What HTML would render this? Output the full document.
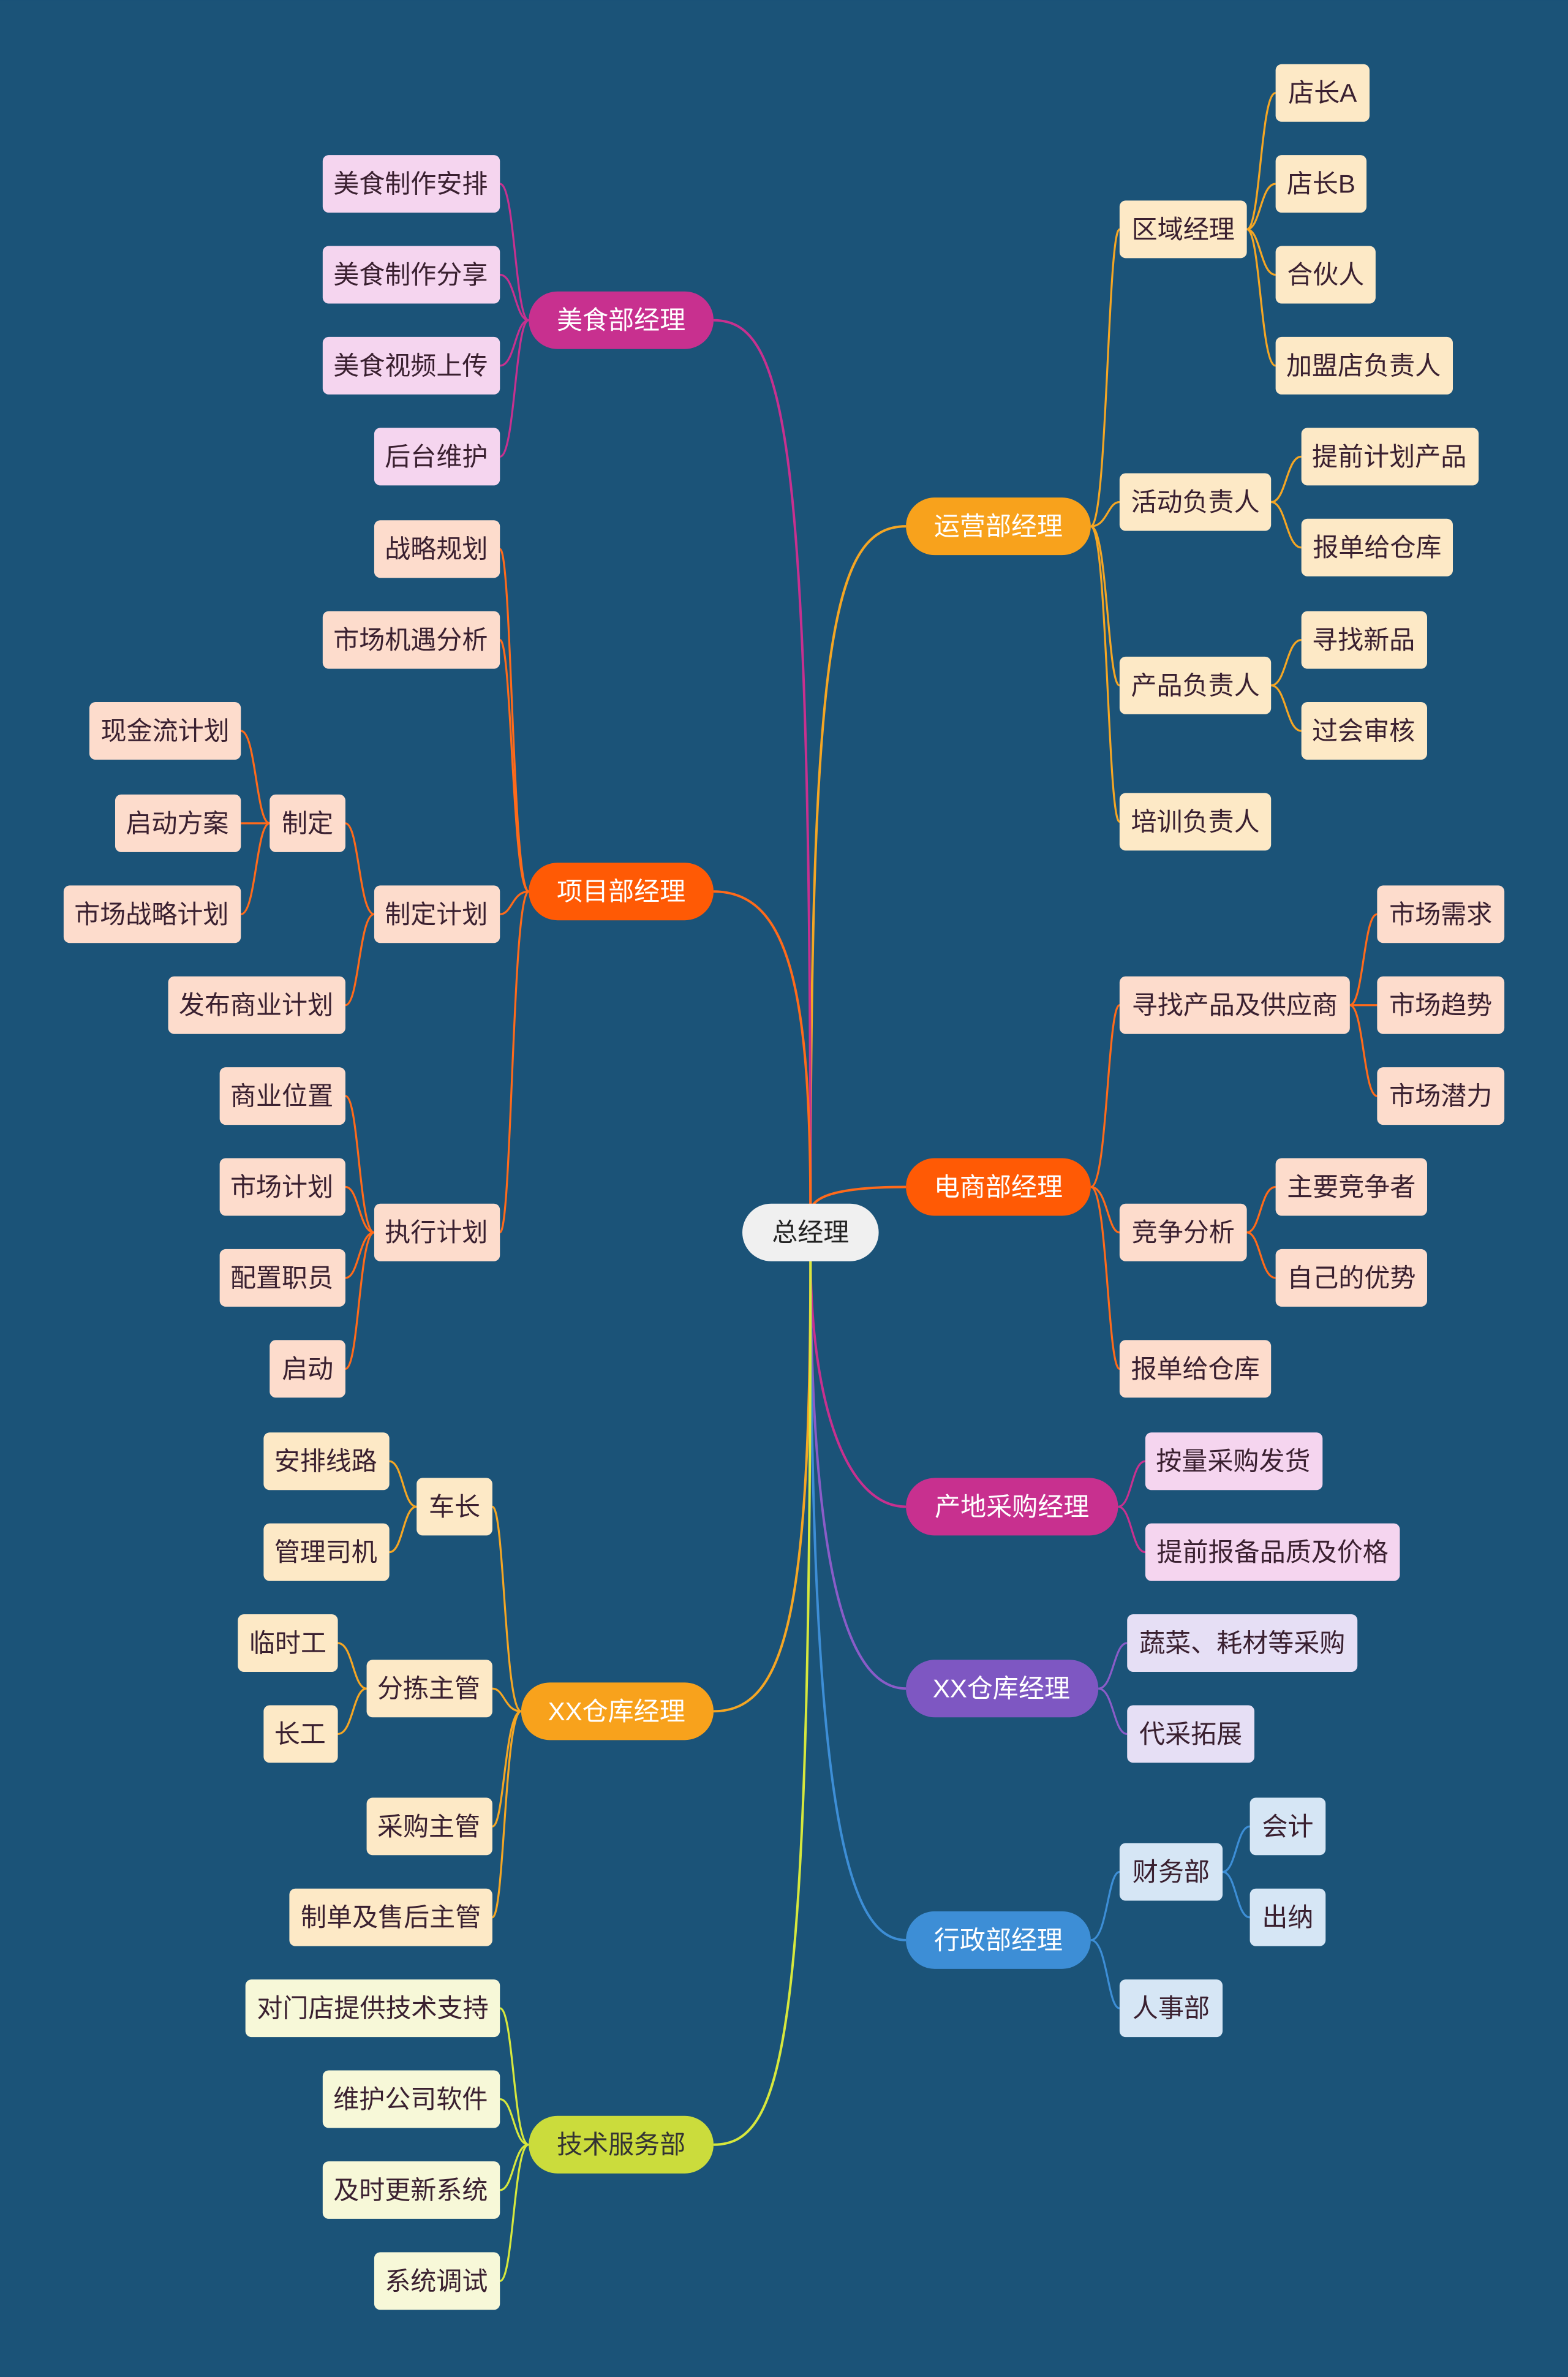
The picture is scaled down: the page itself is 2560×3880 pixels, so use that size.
<!DOCTYPE html>
<html><head><meta charset="utf-8"><style>
html,body{margin:0;padding:0;background:#1b5378;}
svg{display:block}
text{font-family:"Liberation Sans","Noto Sans CJK SC",sans-serif;font-size:17px;dominant-baseline:central;text-anchor:middle}
.l text{fill:#3a2030}
</style></head><body>
<svg width="2560" height="3880" viewBox="0 0 1035 1568" xmlns="http://www.w3.org/2000/svg">
<rect width="1035" height="1568" fill="#1b5378"/>
<g fill="none" stroke-width="1.6">
<!-- main branches -->
<path d="M535,800 C535,420 550,347 598,347" stroke="#f5a623"/>
<path d="M535,800 C535,790 550,783 598,783" stroke="#ff6a1a"/>
<path d="M535,826 C535,930 560,994 598,994" stroke="#c8308f"/>
<path d="M535,826 C535,1040 560,1114 598,1114" stroke="#8a5cc8"/>
<path d="M535,826 C535,1200 560,1280 598,1280" stroke="#3d8ed6"/>
<path d="M535,800 C535,290 520,211 471,211" stroke="#c8308f"/>
<path d="M535,800 C535,650 520,588 471,588" stroke="#ff6a1a"/>
<path d="M535,826 C535,1060 520,1129 471,1129" stroke="#f5a623"/>
<path d="M535,826 C535,1340 520,1415 471,1415" stroke="#d7e83c"/>
</g>
<g fill="none" stroke-width="1.3">
<g stroke="#f5a623">
<path d="M720,347 C731,347 731,151 739,151"/><path d="M720,347 C731,347 731,331 739,331"/><path d="M720,347 C731,347 731,452 739,452"/><path d="M720,347 C731,347 731,542 739,542"/>
<path d="M823,151 C832,151 832,61 842,61"/><path d="M823,151 C832,151 832,121 842,121"/><path d="M823,151 C832,151 832,181 842,181"/><path d="M823,151 C832,151 832,241 842,241"/>
<path d="M839,331 C849,331 849,301 859,301"/><path d="M839,331 C849,331 849,361 859,361"/>
<path d="M839,452 C849,452 849,422 859,422"/><path d="M839,452 C849,452 849,482 859,482"/>
</g>
<g stroke="#ff6a1a">
<path d="M720,783 C731,783 731,663 739,663"/><path d="M720,783 C731,783 731,813 739,813"/><path d="M720,783 C731,783 731,903 739,903"/>
<path d="M891,663 C900,663 900,603 909,603"/><path d="M891,663 H909"/><path d="M891,663 C900,663 900,723 909,723"/>
<path d="M823,813 C832,813 832,783 842,783"/><path d="M823,813 C832,813 832,843 842,843"/>
<path d="M349,588 C338,588 338,362 330,362"/><path d="M349,588 C338,588 338,422 330,422"/><path d="M349,588 C338,588 338,603 330,603"/><path d="M349,588 C338,588 338,813 330,813"/>
<path d="M247,603 C237,603 237,543 228,543"/><path d="M247,603 C237,603 237,663 228,663"/>
<path d="M178,543 C169,543 169,482 159,482"/><path d="M178,543 H159"/><path d="M178,543 C169,543 169,603 159,603"/>
<path d="M247,813 C237,813 237,723 228,723"/><path d="M247,813 C237,813 237,783 228,783"/><path d="M247,813 C237,813 237,843 228,843"/><path d="M247,813 C237,813 237,903 228,903"/>
</g>
<g stroke="#c8308f">
<path d="M738,994 C747,994 747,964 756,964"/><path d="M738,994 C747,994 747,1024 756,1024"/>
<path d="M349,211 C340,211 340,121 330,121"/><path d="M349,211 C340,211 340,181 330,181"/><path d="M349,211 C340,211 340,241 330,241"/><path d="M349,211 C340,211 340,301 330,301"/>
</g>
<g stroke="#8a5cc8"><path d="M725,1114 C735,1114 735,1084 744,1084"/><path d="M725,1114 C735,1114 735,1144 744,1144"/></g>
<g stroke="#3d8ed6">
<path d="M720,1280 C731,1280 731,1235 739,1235"/><path d="M720,1280 C731,1280 731,1325 739,1325"/>
<path d="M807,1235 C816,1235 816,1205 825,1205"/><path d="M807,1235 C816,1235 816,1265 825,1265"/>
</g>
<g stroke="#f5a623">
<path d="M344,1129 C333,1129 333,994 325,994"/><path d="M344,1129 C333,1129 333,1114 325,1114"/><path d="M344,1129 C333,1129 333,1205 325,1205"/><path d="M344,1129 C333,1129 333,1265 325,1265"/>
<path d="M275,994 C266,994 266,964 257,964"/><path d="M275,994 C266,994 266,1024 257,1024"/>
<path d="M242,1114 C233,1114 233,1084 223,1084"/><path d="M242,1114 C233,1114 233,1144 223,1144"/>
</g>
<g stroke="#d7e83c">
<path d="M349,1415 C339,1415 339,1325 330,1325"/><path d="M349,1415 C339,1415 339,1385 330,1385"/><path d="M349,1415 C339,1415 339,1445 330,1445"/><path d="M349,1415 C339,1415 339,1505 330,1505"/>
</g>
</g>

<!-- root -->
<rect x="490" y="794" width="90" height="38" rx="19" fill="#f0f0f0"/><text x="535" y="813" fill="#222">总经理</text>

<!-- main pills -->
<g>
<rect x="598" y="328" width="122" height="38" rx="19" fill="#f8a21c"/><text x="659" y="347" fill="#fff">运营部经理</text>
<rect x="598" y="764" width="122" height="38" rx="19" fill="#ff5a05"/><text x="659" y="783" fill="#fff">电商部经理</text>
<rect x="598" y="975" width="140" height="38" rx="19" fill="#c8308f"/><text x="668" y="994" fill="#fff">产地采购经理</text>
<rect x="598" y="1095" width="127" height="38" rx="19" fill="#7e57c2"/><text x="661" y="1114" fill="#fff">XX仓库经理</text>
<rect x="598" y="1261" width="122" height="38" rx="19" fill="#3d8ed6"/><text x="659" y="1280" fill="#fff">行政部经理</text>
<rect x="349" y="192" width="122" height="38" rx="19" fill="#c8308f"/><text x="410" y="211" fill="#fff">美食部经理</text>
<rect x="349" y="569" width="122" height="38" rx="19" fill="#ff5a05"/><text x="410" y="588" fill="#fff">项目部经理</text>
<rect x="344" y="1110" width="127" height="38" rx="19" fill="#f8a21c"/><text x="407" y="1129" fill="#fff">XX仓库经理</text>
<rect x="349" y="1396" width="122" height="38" rx="19" fill="#cbdc3c"/><text x="410" y="1415" fill="#333">技术服务部</text>
</g>

<g class="l">
<!-- orange -->
<g fill="#fde9c6">
<rect x="739" y="132" width="84" height="38" rx="4"/><rect x="842" y="42" width="62" height="38" rx="4"/><rect x="842" y="102" width="60" height="38" rx="4"/><rect x="842" y="162" width="66" height="38" rx="4"/><rect x="842" y="222" width="117" height="38" rx="4"/>
<rect x="739" y="312" width="100" height="38" rx="4"/><rect x="859" y="282" width="117" height="38" rx="4"/><rect x="859" y="342" width="100" height="38" rx="4"/>
<rect x="739" y="433" width="100" height="38" rx="4"/><rect x="859" y="403" width="83" height="38" rx="4"/><rect x="859" y="463" width="83" height="38" rx="4"/>
<rect x="739" y="523" width="100" height="38" rx="4"/>
<rect x="275" y="975" width="50" height="38" rx="4"/><rect x="174" y="945" width="83" height="38" rx="4"/><rect x="174" y="1005" width="83" height="38" rx="4"/>
<rect x="242" y="1095" width="83" height="38" rx="4"/><rect x="157" y="1065" width="66" height="38" rx="4"/><rect x="174" y="1125" width="49" height="38" rx="4"/>
<rect x="242" y="1186" width="83" height="38" rx="4"/><rect x="191" y="1246" width="134" height="38" rx="4"/>
</g>
<text x="781" y="151">区域经理</text><text x="873" y="61">店长A</text><text x="872" y="121">店长B</text><text x="875" y="181">合伙人</text><text x="900" y="241">加盟店负责人</text>
<text x="789" y="331">活动负责人</text><text x="917" y="301">提前计划产品</text><text x="909" y="361">报单给仓库</text>
<text x="789" y="452">产品负责人</text><text x="900" y="422">寻找新品</text><text x="900" y="482">过会审核</text>
<text x="789" y="542">培训负责人</text>
<text x="300" y="994">车长</text><text x="215" y="964">安排线路</text><text x="215" y="1024">管理司机</text>
<text x="283" y="1114">分拣主管</text><text x="190" y="1084">临时工</text><text x="198" y="1144">长工</text>
<text x="283" y="1205">采购主管</text><text x="258" y="1265">制单及售后主管</text>
<!-- red-orange -->
<g fill="#fddccc">
<rect x="739" y="644" width="152" height="38" rx="4"/><rect x="909" y="584" width="84" height="38" rx="4"/><rect x="909" y="644" width="84" height="38" rx="4"/><rect x="909" y="704" width="84" height="38" rx="4"/>
<rect x="739" y="794" width="84" height="38" rx="4"/><rect x="842" y="764" width="100" height="38" rx="4"/><rect x="842" y="824" width="100" height="38" rx="4"/>
<rect x="739" y="884" width="100" height="38" rx="4"/>
<rect x="247" y="343" width="83" height="38" rx="4"/><rect x="213" y="403" width="117" height="38" rx="4"/>
<rect x="247" y="584" width="83" height="38" rx="4"/><rect x="178" y="524" width="50" height="38" rx="4"/>
<rect x="59" y="463" width="100" height="38" rx="4"/><rect x="76" y="524" width="83" height="38" rx="4"/><rect x="42" y="584" width="117" height="38" rx="4"/>
<rect x="111" y="644" width="117" height="38" rx="4"/>
<rect x="247" y="794" width="83" height="38" rx="4"/><rect x="145" y="704" width="83" height="38" rx="4"/><rect x="145" y="764" width="83" height="38" rx="4"/><rect x="145" y="824" width="83" height="38" rx="4"/><rect x="178" y="884" width="50" height="38" rx="4"/>
</g>
<text x="815" y="663">寻找产品及供应商</text><text x="951" y="603">市场需求</text><text x="951" y="663">市场趋势</text><text x="951" y="723">市场潜力</text>
<text x="781" y="813">竞争分析</text><text x="892" y="783">主要竞争者</text><text x="892" y="843">自己的优势</text>
<text x="789" y="903">报单给仓库</text>
<text x="288" y="362">战略规划</text><text x="271" y="422">市场机遇分析</text>
<text x="288" y="603">制定计划</text><text x="203" y="543">制定</text>
<text x="109" y="482">现金流计划</text><text x="117" y="543">启动方案</text><text x="100" y="603">市场战略计划</text>
<text x="169" y="663">发布商业计划</text>
<text x="288" y="813">执行计划</text><text x="186" y="723">商业位置</text><text x="186" y="783">市场计划</text><text x="186" y="843">配置职员</text><text x="203" y="903">启动</text>
<!-- magenta -->
<g fill="#f5d5ef">
<rect x="756" y="945" width="117" height="38" rx="4"/><rect x="756" y="1005" width="168" height="38" rx="4"/>
<rect x="213" y="102" width="117" height="38" rx="4"/><rect x="213" y="162" width="117" height="38" rx="4"/><rect x="213" y="222" width="117" height="38" rx="4"/><rect x="247" y="282" width="83" height="38" rx="4"/>
</g>
<text x="814" y="964">按量采购发货</text><text x="840" y="1024">提前报备品质及价格</text>
<text x="271" y="121">美食制作安排</text><text x="271" y="181">美食制作分享</text><text x="271" y="241">美食视频上传</text><text x="288" y="301">后台维护</text>
<!-- purple -->
<g fill="#e6dff5"><rect x="744" y="1065" width="152" height="38" rx="4"/><rect x="744" y="1125" width="84" height="38" rx="4"/></g>
<text x="820" y="1084">蔬菜、耗材等采购</text><text x="786" y="1144">代采拓展</text>
<!-- blue -->
<g fill="#d6e6f5"><rect x="739" y="1216" width="68" height="38" rx="4"/><rect x="825" y="1186" width="50" height="38" rx="4"/><rect x="825" y="1246" width="50" height="38" rx="4"/><rect x="739" y="1306" width="68" height="38" rx="4"/></g>
<text x="773" y="1235">财务部</text><text x="850" y="1205">会计</text><text x="850" y="1265">出纳</text><text x="773" y="1325">人事部</text>
<!-- yellow-green -->
<g fill="#f7f8d8"><rect x="162" y="1306" width="168" height="38" rx="4"/><rect x="213" y="1366" width="117" height="38" rx="4"/><rect x="213" y="1426" width="117" height="38" rx="4"/><rect x="247" y="1486" width="83" height="38" rx="4"/></g>
<text x="246" y="1325">对门店提供技术支持</text><text x="271" y="1385">维护公司软件</text><text x="271" y="1445">及时更新系统</text><text x="288" y="1505">系统调试</text>
</g>
</svg>
</body></html>
